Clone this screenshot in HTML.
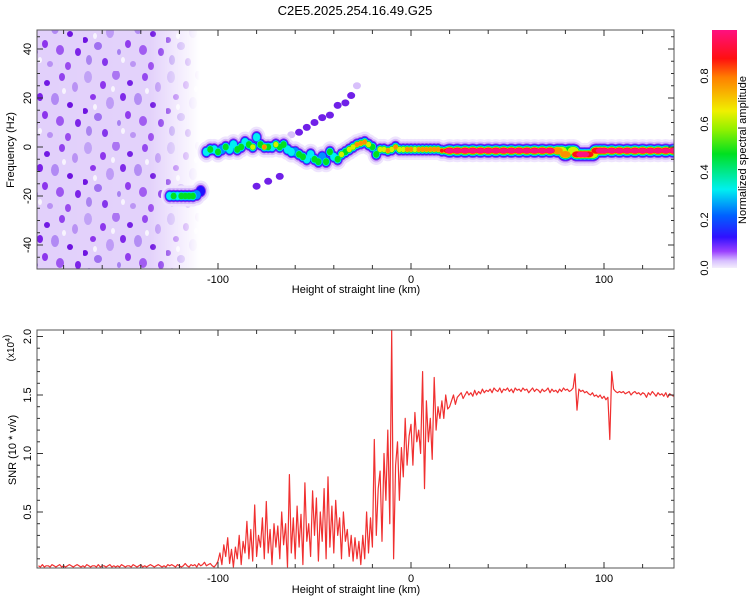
<!DOCTYPE html>
<html><head><meta charset="utf-8">
<style>
body{margin:0;background:#fff;}
svg{display:block;font-family:"Liberation Sans",sans-serif;}
</style></head>
<body>
<svg id="chart" width="750" height="600" viewBox="0 0 750 600" xmlns="http://www.w3.org/2000/svg">
<defs>
<linearGradient id="cmap" x1="0" y1="1" x2="0" y2="0">
<stop offset="0" stop-color="#f4eefc"/>
<stop offset="0.03" stop-color="#d8c0ff"/>
<stop offset="0.07" stop-color="#9a40ff"/>
<stop offset="0.13" stop-color="#3010ff"/>
<stop offset="0.22" stop-color="#0060ff"/>
<stop offset="0.33" stop-color="#00f0f0"/>
<stop offset="0.48" stop-color="#00e020"/>
<stop offset="0.58" stop-color="#90f000"/>
<stop offset="0.66" stop-color="#f0f000"/>
<stop offset="0.8" stop-color="#ff8000"/>
<stop offset="0.88" stop-color="#ff1010"/>
<stop offset="1" stop-color="#ff1080"/>
</linearGradient>
<pattern id="noise" width="83" height="71" patternUnits="userSpaceOnUse">
<rect width="83" height="71" fill="#e2d0fb"/>
<ellipse cx="5" cy="6" rx="4" ry="6" fill="#c0a0f6"/>
<ellipse cx="20" cy="14" rx="3" ry="4" fill="#8a30ec"/>
<ellipse cx="33" cy="4" rx="4" ry="5" fill="#a870f2"/>
<ellipse cx="47" cy="12" rx="3" ry="3" fill="#7018e4"/>
<ellipse cx="62" cy="6" rx="3" ry="4" fill="#9040ee"/>
<ellipse cx="75" cy="16" rx="3" ry="5" fill="#b890f4"/>
<ellipse cx="55" cy="28" rx="4" ry="6" fill="#b088f4"/>
<ellipse cx="10" cy="26" rx="3" ry="3" fill="#8a30ec"/>
<ellipse cx="27" cy="32" rx="4" ry="6" fill="#bc98f6"/>
<ellipse cx="40" cy="26" rx="3" ry="4" fill="#7a20e8"/>
<ellipse cx="70" cy="34" rx="3" ry="3" fill="#6c10e0"/>
<ellipse cx="15" cy="46" rx="4" ry="4" fill="#9c6cf0"/>
<ellipse cx="45" cy="44" rx="3" ry="4" fill="#8c34ec"/>
<ellipse cx="2" cy="40" rx="3" ry="3" fill="#6c10e0"/>
<ellipse cx="36" cy="52" rx="2" ry="3" fill="#a47cf0"/>
<ellipse cx="60" cy="50" rx="4" ry="5" fill="#9c54f0"/>
<ellipse cx="78" cy="52" rx="3" ry="4" fill="#7a20e8"/>
<ellipse cx="22" cy="62" rx="3" ry="4" fill="#8030ea"/>
<ellipse cx="50" cy="64" rx="3" ry="3" fill="#b890f4"/>
<ellipse cx="68" cy="66" rx="3" ry="4" fill="#9848ee"/>
<ellipse cx="6" cy="60" rx="3" ry="5" fill="#a880f0"/>
<ellipse cx="30" cy="18" rx="2" ry="3" fill="#f8f4fe"/>
<ellipse cx="64" cy="20" rx="2" ry="3" fill="#f8f4fe"/>
<ellipse cx="12" cy="36" rx="2" ry="3" fill="#f8f4fe"/>
<ellipse cx="40" cy="60" rx="2" ry="3" fill="#f8f4fe"/>
</pattern>
<linearGradient id="fade" x1="0" x2="1" y1="0" y2="0">
<stop offset="0" stop-color="#fff" stop-opacity="1"/>
<stop offset="0.7" stop-color="#fff" stop-opacity="0.95"/>
<stop offset="1" stop-color="#fff" stop-opacity="0"/>
</linearGradient>
<mask id="noisemask"><rect x="37" y="30" width="163" height="239" fill="url(#fade)"/></mask>
<clipPath id="clipTop"><rect x="37" y="30" width="637" height="239"/></clipPath>
<clipPath id="clipBot"><rect x="37" y="330" width="637" height="238"/></clipPath>
</defs>
<text x="355" y="15" font-size="13" text-anchor="middle">C2E5.2025.254.16.49.G25</text>
<g id="top">
<rect x="37" y="30" width="163" height="239" fill="url(#noise)" mask="url(#noisemask)"/>
<g id="track" clip-path="url(#clipTop)"></g>
<rect x="37" y="30" width="637" height="239" fill="none" stroke="#555" stroke-width="1"/>
<g id="topAxes"></g>
<text x="356" y="293" font-size="11" text-anchor="middle">Height of straight line (km)</text>
<text transform="translate(14,150) rotate(-90)" font-size="11" text-anchor="middle">Frequency (Hz)</text>
</g>
<g id="cbar">
<rect x="712" y="30" width="25" height="238" fill="url(#cmap)"/>
<g id="cbTicks"></g>
<text transform="translate(746,150) rotate(-90)" font-size="11" text-anchor="middle">Normalized spectral amplitude</text>
</g>
<g id="bot">
<path id="snrLine" clip-path="url(#clipBot)" fill="none" stroke="#f03030" stroke-width="1.2" stroke-linejoin="round"/>
<rect x="37" y="330" width="637" height="238" fill="none" stroke="#555" stroke-width="1"/>
<g id="botAxes"></g>
<text x="356" y="593" font-size="11" text-anchor="middle">Height of straight line (km)</text>
<text transform="translate(16,450) rotate(-90)" font-size="11" text-anchor="middle">SNR (10 * v/v)</text>
<text transform="translate(14,348) rotate(-90)" font-size="10" text-anchor="middle">(x10<tspan font-size="7" dy="-4">4</tspan>)</text>
</g>
</svg>
<script>
const xTicksMajor=[-100,0,100];
const xTickLabels=["-100","0","100"];
const freqTicks=[-40,-20,0,20,40];
const snrTicks=[0.5,1.0,1.5,2.0];
const cbTicks=[0.0,0.2,0.4,0.6,0.8];
// main track: height (km), frequency (Hz), amplitude
const trackH=[-125,-123,-121,-119,-117,-115,-113,-111,-109,-106,-104,-102,-100,-98,-96,-94,-92,-90,-88,-86,-84,-82,-80,-78,-76,-74,-72,-70,-68,-66,-64,-62,-60,-58,-56,-54,-52,-50,-48,-46,-44,-42,-40,-38,-36,-34,-32,-30,-28,-26,-24,-22,-20,-18,-16,-14,-12,-10,-8,-6,-4,-2,0,2,4,6,8,10,12,14,16,18];
const trackF=[-20,-20,-20,-20,-20,-20,-20,-19.5,-18,-2,-1,-1,-2,-1,0,-1,1,-1,0,2,1,0,4,1,0,0,0,1,0,1,-1,-2,-2,-3,-4,-5,-3,-5,-6,-4,-6,-2,-4,-5,-3,-2,-1,0,1,1.5,2,1,0,-3,-1,-1,-1.5,-1,0,-1,-1,-1,-1,-1,-1,-1,-1,-1,-1,-1,-1.5,-1.5];
const trackA=[0.35,0.45,0.4,0.5,0.45,0.55,0.5,0.3,0.2,0.4,0.5,0.35,0.45,0.3,0.5,0.4,0.35,0.55,0.45,0.4,0.5,0.6,0.35,0.45,0.75,0.55,0.4,0.6,0.45,0.5,0.35,0.4,0.3,0.45,0.55,0.4,0.35,0.5,0.55,0.3,0.45,0.5,0.4,0.55,0.6,0.5,0.65,0.7,0.75,0.8,0.78,0.7,0.5,0.45,0.7,0.6,0.75,0.65,0.8,0.6,0.7,0.75,0.8,0.7,0.75,0.78,0.8,0.75,0.8,0.78,0.85,0.88];
// strong continuous line segment
const lineH=[20,24,28,32,36,40,44,48,52,56,60,64,68,72,76,78,80,82,84,86,88,90,92,94,96,98,100,104,108,112,116,120,124,128,132,136];
const lineF=[-1.5,-1.5,-1.5,-1.5,-1.5,-1.5,-1.5,-1.5,-1.5,-1.5,-1.5,-1.5,-1.5,-1.5,-1.5,-1.5,-3,-1.5,-1.5,-3,-3,-3,-3,-3,-1.5,-1.5,-1.5,-1.5,-1.5,-1.5,-1.5,-1.5,-1.5,-1.5,-1.5,-1.5];
const lineA=[0.9,0.95,0.95,0.95,0.95,0.95,0.95,0.95,0.95,0.95,0.95,0.95,0.92,0.9,0.8,0.6,0.75,0.5,0.6,0.85,0.9,0.9,0.88,0.7,0.85,0.95,0.95,0.95,0.95,0.93,0.95,0.9,0.95,0.95,0.95,0.95];
// side track
const sideH=[-80,-74,-68,-62,-58,-54,-50,-46,-42,-38,-34,-31,-28];
const sideF=[-16,-14,-12,5,6,8,10,12,13,17,18,21,25];
const sideA=[0.15,0.12,0.14,0.1,0.12,0.14,0.15,0.15,0.12,0.16,0.17,0.18,0.05];
// SNR (x10^4) from height -193 km, step 1 km
const snrStart=-193;
const snr=[0.04,0.03,0.05,0.03,0.04,0.04,0.03,0.05,0.04,0.03,0.04,0.05,0.03,0.04,0.03,0.04,0.05,0.04,0.03,0.04,0.05,0.04,0.03,0.04,0.03,0.05,0.04,0.03,0.04,0.04,0.03,0.05,0.03,0.04,0.04,0.03,0.04,0.05,0.03,0.04,0.03,0.04,0.03,0.05,0.04,0.03,0.04,0.04,0.03,0.05,0.04,0.03,0.04,0.05,0.03,0.04,0.03,0.04,0.05,0.04,0.03,0.04,0.05,0.04,0.03,0.04,0.03,0.05,0.04,0.05,0.04,0.03,0.05,0.04,0.03,0.04,0.06,0.04,0.03,0.05,0.04,0.05,0.03,0.06,0.04,0.05,0.07,0.04,0.05,0.06,0.04,0.03,0.05,
0.08,0.15,0.05,0.22,0.12,0.28,0.06,0.18,0.03,0.2,
0.1,0.3,0.05,0.25,0.15,0.42,0.1,0.35,0.08,0.56,
0.12,0.3,0.2,0.45,0.1,0.59,0.15,0.35,0.05,0.4,
0.2,0.38,0.1,0.5,0.22,0.4,0.03,0.82,0.15,0.45,
0.1,0.55,0.2,0.48,0.05,0.75,0.25,0.4,0.12,0.68,
0.3,0.62,0.08,0.5,0.25,0.7,0.1,0.8,0.2,0.55,
0.15,0.6,0.3,0.45,0.1,0.5,0.25,0.35,0.12,0.3,
0.08,0.28,0.1,0.25,0.05,0.3,0.1,0.5,0.15,0.45,
0.2,1.12,0.3,0.7,0.85,0.25,1.0,0.6,1.2,0.4,
2.05,0.1,0.9,1.1,0.6,1.05,0.8,1.3,0.9,1.15,
1.25,0.9,1.35,1.1,1.2,1.0,1.7,0.7,1.45,1.1,
1.3,0.95,1.65,1.2,1.4,1.3,1.45,1.3,1.5,1.38,
1.4,1.45,1.5,1.42,1.48,1.5,1.52,1.47,1.5,1.53,
1.5,1.52,1.49,1.54,1.5,1.53,1.51,1.55,1.52,1.54,
1.53,1.55,1.52,1.56,1.54,1.53,1.56,1.52,1.55,1.54,
1.56,1.53,1.55,1.52,1.56,1.54,1.55,1.53,1.56,1.54,
1.55,1.52,1.54,1.56,1.53,1.55,1.54,1.52,1.55,1.53,
1.54,1.56,1.52,1.55,1.53,1.54,1.52,1.55,1.53,1.56,
1.54,1.55,1.53,1.54,1.56,1.68,1.37,1.55,1.53,1.54,
1.52,1.53,1.51,1.5,1.52,1.49,1.5,1.48,1.5,1.47,
1.49,1.46,1.48,1.12,1.70,1.55,1.53,1.52,1.53,1.52,
1.53,1.51,1.52,1.53,1.5,1.52,1.53,1.51,1.52,1.5,
1.52,1.51,1.48,1.52,1.5,1.53,1.51,1.49,1.52,1.5,
1.51,1.49,1.52,1.48,1.51,1.5,1.49,1.5];

const NS='http://www.w3.org/2000/svg';
function xS(h){return 218+(h+100)*1.93;}
function yF(f){return 147-f*2.45;}
function yS(v){return 570.5-v*117;}
function mk(tag,attrs,parent){const e=document.createElementNS(NS,tag);for(const k in attrs)e.setAttribute(k,attrs[k]);parent.appendChild(e);return e;}

// contour levels: threshold, colour, extra radius (px) added to the core radius
const levels=[[0.0,'#eee4fd',9],[0.04,'#d4b8fa',6.5],[0.08,'#8a30f0',4.6],[0.15,'#2010ff',3.6],[0.25,'#0090ff',3.0],[0.33,'#00f0f0',2.4],[0.45,'#00e020',1.8],[0.6,'#d0f000',1.2],[0.72,'#ff9000',0.8],[0.82,'#ff1010',0.4],[0.9,'#ff1080',0]];
const track=document.getElementById('track');
// combine both segments so all halos are drawn beneath all cores
const pts=[];
trackH.forEach((h,i)=>pts.push([h,trackF[i],trackA[i],1.6,1.6]));
lineH.forEach((h,i)=>pts.push([h,lineF[i],lineA[i],4.5,2.6]));
sideH.forEach((h,i)=>{
  const e=mk('ellipse',{cx:xS(h),cy:yF(sideF[i]),rx:4,ry:3.5,fill:sideA[i]>0.1?'#7020e8':'#d8c0fb'},track);
  
  
});
levels.forEach(l=>{
  pts.forEach(p=>{
    if(p[2]>=l[0]){
      const e=mk('ellipse',{cx:xS(p[0]),cy:yF(p[1]),rx:p[3]+l[2]*0.8,ry:p[4]+l[2],fill:l[1]},track);
      
      
    }
  });
});

// top axes
const ta=document.getElementById('topAxes');
for(let h=-180;h<=130;h+=20){
  const len=(h%100===0)?6:4;
  mk('line',{x1:xS(h),x2:xS(h),y1:269,y2:269-len,stroke:'#333'},ta);
  mk('line',{x1:xS(h),x2:xS(h),y1:30,y2:30+len,stroke:'#333'},ta);
}
xTicksMajor.forEach((h,i)=>{
  const t=mk('text',{x:xS(h),y:283,'font-size':11,'text-anchor':'middle'},ta);t.textContent=xTickLabels[i];
  
  
});
for(let f=-45;f<=45;f+=5){
  const len=(f%20===0)?6:3;
  mk('line',{x1:37,x2:37+len,y1:yF(f),y2:yF(f),stroke:'#333'},ta);
  mk('line',{x1:674,x2:674-len,y1:yF(f),y2:yF(f),stroke:'#333'},ta);
}
freqTicks.forEach(f=>{
  const t=mk('text',{transform:`translate(31,${yF(f)}) rotate(-90)`,'font-size':11,'text-anchor':'middle'},ta);t.textContent=String(f);
  
  
});
// colorbar ticks
const cb=document.getElementById('cbTicks');
cbTicks.forEach(v=>{
  const y=268-v*240;
  const t=mk('text',{transform:`translate(708,${y}) rotate(-90)`,'font-size':11,'text-anchor':'middle'},cb);t.textContent=v.toFixed(1);
  
  
});
// bottom axes
const ba=document.getElementById('botAxes');
for(let h=-180;h<=130;h+=20){
  const len=(h%100===0)?6:4;
  mk('line',{x1:xS(h),x2:xS(h),y1:568,y2:568-len,stroke:'#333'},ba);
  mk('line',{x1:xS(h),x2:xS(h),y1:330,y2:330+len,stroke:'#333'},ba);
}
xTicksMajor.forEach((h,i)=>{
  const t=mk('text',{x:xS(h),y:582,'font-size':11,'text-anchor':'middle'},ba);t.textContent=xTickLabels[i];
  
  
});
for(let v=0.1;v<=2.01;v+=0.1){
  const major=Math.abs(v*2-Math.round(v*2))<0.01;
  const len=major?6:3;
  mk('line',{x1:37,x2:37+len,y1:yS(v),y2:yS(v),stroke:'#333'},ba);
  mk('line',{x1:674,x2:674-len,y1:yS(v),y2:yS(v),stroke:'#333'},ba);
}
snrTicks.forEach(v=>{
  const t=mk('text',{transform:`translate(31,${yS(v)}) rotate(-90)`,'font-size':11,'text-anchor':'middle'},ba);t.textContent=v.toFixed(1);
  
  
});
// SNR line
let d='';
snr.forEach((v,i)=>{d+=(i?'L':'M')+xS(snrStart+i).toFixed(1)+','+yS(v).toFixed(1);});
document.getElementById('snrLine').setAttribute('d',d);
</script>
</body></html>
